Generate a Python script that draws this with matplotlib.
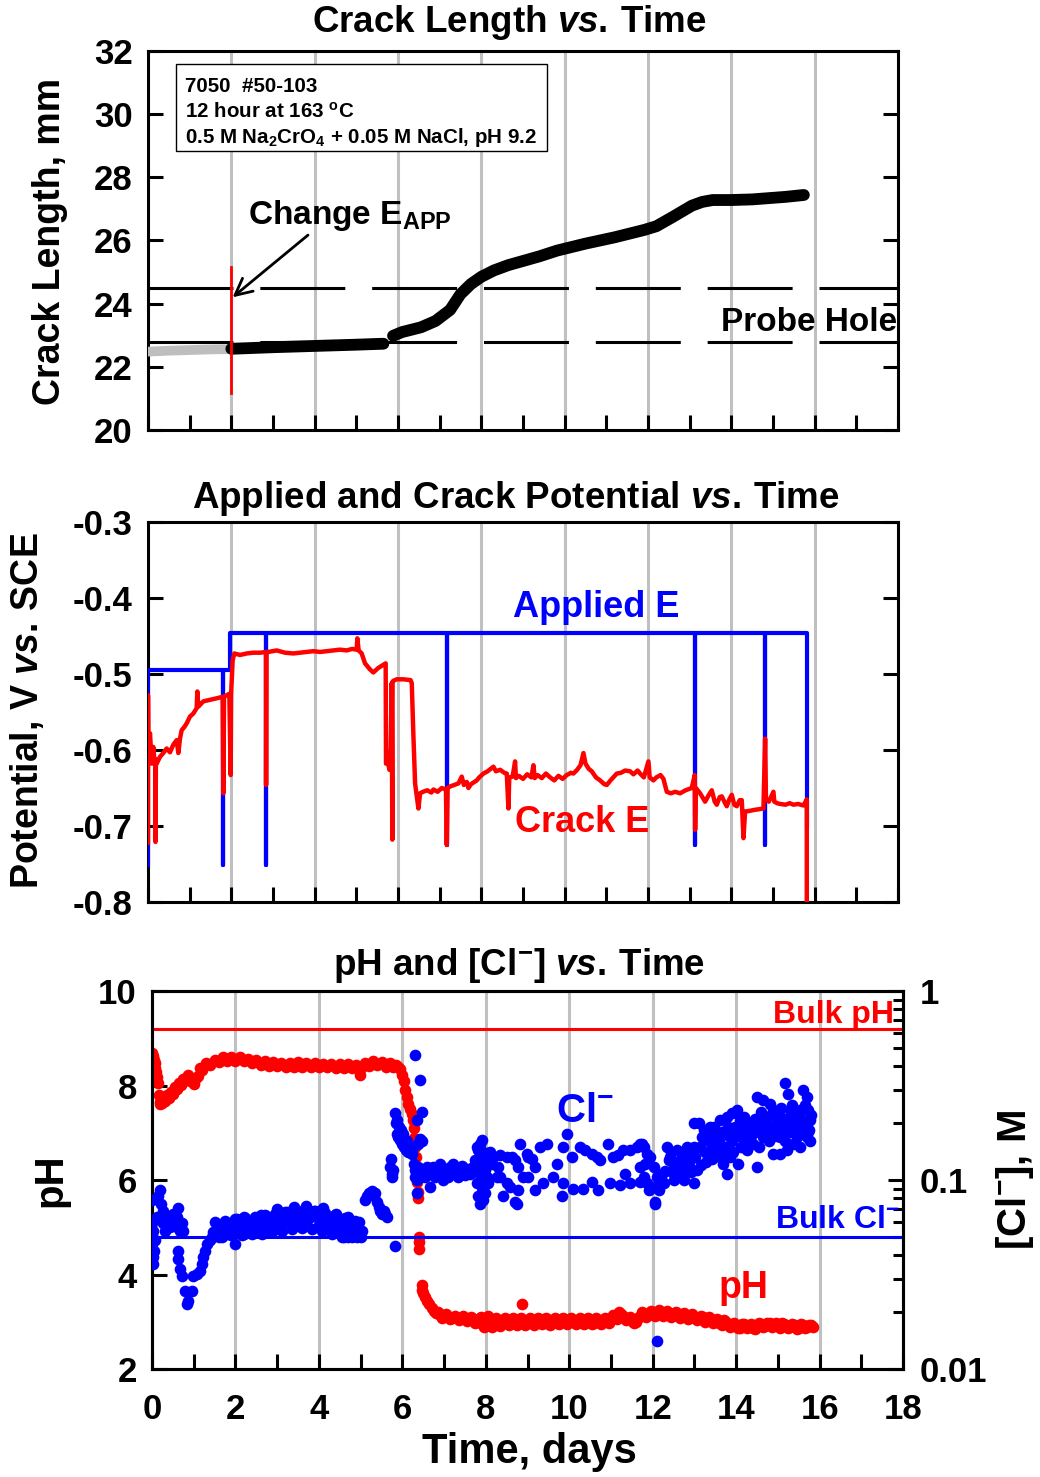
import numpy as np
import matplotlib
matplotlib.use("Agg")
import matplotlib.pyplot as plt
from matplotlib.patches import Rectangle
from matplotlib.ticker import MultipleLocator, FixedLocator, FixedFormatter, NullFormatter, FormatStrFormatter

# ---- crack length (mm) ----
cl_pre_day = [0.0, 0.5, 1.0, 1.5, 1.97]
cl_pre_len = [22.48, 22.51, 22.53, 22.55, 22.56]
cl_a_day = [2.0, 3.0, 4.0, 5.0, 5.65]
cl_a_len = [22.57, 22.62, 22.66, 22.70, 22.73]
cl_b_day = [5.88, 6.1, 6.55, 6.9, 7.25, 7.5, 7.75, 8.0, 8.3, 8.65, 9.0, 9.4, 9.82, 10.5,
            11.2, 11.9, 12.2, 12.6, 13.05, 13.3, 13.55, 14.0, 14.5, 14.9, 15.3, 15.74]
cl_b_len = [22.98, 23.1, 23.25, 23.45, 23.8, 24.3, 24.62, 24.85, 25.05, 25.22, 25.35, 25.5, 25.68, 25.9,
            26.1, 26.33, 26.45, 26.75, 27.1, 27.22, 27.28, 27.28, 27.3, 27.34, 27.38, 27.44]
probe_hole = [22.8, 24.5]
e_change_day = 2.0
e_change_span = [21.17, 25.16]

# ---- potentials (V vs SCE) ----
applied_day = [0.0, 0.0, 1.79, 1.79, 1.79, 1.97, 1.97, 2.83, 2.83, 2.83, 7.17, 7.17, 7.17,
               13.13, 13.13, 13.13, 14.81, 14.81, 14.81, 15.81, 15.81]
applied_v = [-0.751, -0.495, -0.495, -0.751, -0.495, -0.495, -0.446, -0.446, -0.751, -0.446, -0.446, -0.725, -0.446,
             -0.446, -0.725, -0.446, -0.446, -0.725, -0.446, -0.446, -0.70]

crack_day = [0.0, 0.0, 0.008, 0.048, 0.09, 0.128, 0.15, 0.18, 0.18, 0.19, 0.208, 0.288, 0.368, 0.448,
             0.528, 0.608, 0.688, 0.728, 0.768, 0.808, 0.868, 0.928, 1.008, 1.088, 1.168, 1.184, 1.208,
             1.328, 1.488, 1.648, 1.792, 1.808, 1.825, 1.952, 1.984, 1.995, 2.032, 2.072, 2.208, 2.368,
             2.528, 2.7, 2.832, 2.834, 2.84, 2.888, 3.088, 3.288, 3.488, 3.648, 3.808, 3.968, 4.128,
             4.288, 4.448, 4.608, 4.768, 4.9, 5.008, 5.024, 5.056, 5.128, 5.208, 5.328, 5.408, 5.528,
             5.648, 5.704, 5.712, 5.768, 5.792, 5.824, 5.848, 5.864, 5.87, 5.888, 5.968, 6.128, 6.3,
             6.33, 6.37, 6.41, 6.49, 6.53, 6.6, 6.7, 6.8, 6.85, 6.95, 7.05, 7.15, 7.17, 7.19, 7.25,
             7.35, 7.45, 7.53, 7.58, 7.65, 7.69, 7.75, 7.89, 7.95, 8.05, 8.15, 8.29, 8.35, 8.45, 8.55,
             8.61, 8.65, 8.67, 8.75, 8.81, 8.83, 8.9, 9.0, 9.1, 9.2, 9.25, 9.28, 9.35, 9.45, 9.55, 9.65,
             9.75, 9.85, 9.95, 10.05, 10.15, 10.21, 10.3, 10.38, 10.45, 10.5, 10.58, 10.65, 10.75,
             10.85, 10.95, 11.01, 11.1, 11.2, 11.25, 11.35, 11.45, 11.57, 11.65, 11.75, 11.81, 11.9,
             12.01, 12.04, 12.13, 12.2, 12.3, 12.37, 12.45, 12.55, 12.65, 12.77, 12.9, 13.05, 13.12,
             13.13, 13.15, 13.25, 13.37, 13.45, 13.53, 13.6, 13.65, 13.72, 13.77, 13.85, 13.89, 13.95,
             14.01, 14.07, 14.13, 14.2, 14.25, 14.29, 14.33, 14.45, 14.53, 14.65, 14.77, 14.81, 14.83,
             14.9, 15.01, 15.03, 15.1, 15.17, 15.3, 15.4, 15.49, 15.6, 15.73, 15.81, 15.81]
crack_v = [-0.722, -0.528, -0.600, -0.578, -0.618, -0.596, -0.612, -0.612, -0.721, -0.615, -0.618, -0.609,
           -0.604, -0.598, -0.603, -0.593, -0.587, -0.604, -0.585, -0.574, -0.570, -0.565, -0.556, -0.552,
           -0.545, -0.523, -0.543, -0.536, -0.534, -0.532, -0.530, -0.657, -0.530, -0.526, -0.633, -0.526,
           -0.482, -0.473, -0.475, -0.473, -0.472, -0.472, -0.471, -0.646, -0.471, -0.471, -0.469, -0.472,
           -0.473, -0.472, -0.471, -0.470, -0.471, -0.470, -0.469, -0.468, -0.469, -0.467, -0.468, -0.453,
           -0.469, -0.473, -0.486, -0.494, -0.498, -0.492, -0.488, -0.486, -0.618, -0.618, -0.626, -0.596,
           -0.512, -0.718, -0.510, -0.509, -0.507, -0.507, -0.508, -0.512, -0.582, -0.644, -0.677, -0.657,
           -0.655, -0.653, -0.656, -0.652, -0.655, -0.650, -0.652, -0.725, -0.650, -0.648, -0.646, -0.644,
           -0.635, -0.646, -0.642, -0.650, -0.645, -0.640, -0.636, -0.631, -0.628, -0.622, -0.628, -0.626,
           -0.630, -0.631, -0.677, -0.636, -0.635, -0.615, -0.637, -0.634, -0.638, -0.632, -0.636, -0.620,
           -0.637, -0.633, -0.637, -0.631, -0.636, -0.640, -0.634, -0.638, -0.633, -0.630, -0.631, -0.626,
           -0.620, -0.604, -0.618, -0.625, -0.628, -0.636, -0.640, -0.645, -0.646, -0.640, -0.634, -0.631,
           -0.630, -0.627, -0.628, -0.632, -0.627, -0.631, -0.636, -0.615, -0.636, -0.640, -0.636, -0.633,
           -0.638, -0.655, -0.657, -0.655, -0.657, -0.653, -0.650, -0.633, -0.705, -0.650, -0.657, -0.668,
           -0.660, -0.653, -0.668, -0.672, -0.662, -0.661, -0.670, -0.674, -0.665, -0.659, -0.672, -0.674,
           -0.666, -0.666, -0.716, -0.681, -0.680, -0.679, -0.678, -0.677, -0.585, -0.664, -0.668, -0.655,
           -0.668, -0.670, -0.671, -0.672, -0.670, -0.672, -0.671, -0.673, -0.665, -0.802]

# ---- crack-tip pH ----
ph_day = [0.00, 0.02, 0.04, 0.06, 0.08, 0.10, 0.12, 0.14, 0.16, 0.18, 0.20, 0.23, 0.26, 0.30, 0.35,
          0.40, 0.45, 0.50, 0.55, 0.60, 0.65, 0.70, 0.75, 0.80, 0.85, 0.90, 0.95, 1.00, 1.05, 1.10,
          1.15, 1.20, 1.30, 1.40, 1.50, 1.60, 1.70, 1.80, 1.90, 2.00, 2.10, 2.20, 2.30, 2.40, 2.50,
          2.60, 2.70, 2.80, 2.90, 3.00, 3.10, 3.20, 3.30, 3.40, 3.50, 3.60, 3.70, 3.80, 3.90, 4.00,
          4.10, 4.20, 4.30, 4.40, 4.50, 4.60, 4.70, 4.80, 4.90, 4.99, 5.00, 5.10, 5.20, 5.30, 5.40,
          5.50, 5.60, 5.70, 5.78, 5.85, 5.90, 5.95, 6.00, 6.03, 6.06, 6.10, 6.14, 6.18, 6.22, 6.25,
          6.27, 6.29, 6.31, 6.33, 6.35, 6.36, 6.37, 6.38, 6.39, 6.40, 6.41, 6.46, 6.48, 6.50, 6.55,
          6.60, 6.65, 6.70, 6.75, 6.80, 6.90, 7.00, 7.10, 7.20, 7.30, 7.40, 7.50, 7.60, 7.70, 7.80,
          7.88, 7.92, 7.96, 8.00, 8.04, 8.08, 8.12, 8.16, 8.22, 8.30, 8.40, 8.50, 8.60, 8.70, 8.80,
          8.86, 8.92, 9.00, 9.10, 9.20, 9.30, 9.40, 9.50, 9.60, 9.70, 9.80, 9.90, 10.00, 10.10, 10.20,
          10.30, 10.40, 10.50, 10.60, 10.70, 10.80, 10.90, 11.00, 11.10, 11.20, 11.30, 11.40, 11.50,
          11.60, 11.70, 11.80, 11.90, 12.00, 12.10, 12.20, 12.30, 12.40, 12.50, 12.60, 12.70, 12.80,
          12.90, 13.00, 13.10, 13.20, 13.30, 13.40, 13.50, 13.60, 13.70, 13.80, 13.90, 14.00, 14.10,
          14.20, 14.30, 14.40, 14.50, 14.60, 14.70, 14.80, 14.90, 15.00, 15.10, 15.20, 15.30, 15.40,
          15.50, 15.60, 15.70, 15.80, 15.85]
ph_val = [8.68, 8.62, 8.55, 8.47, 8.38, 8.28, 8.18, 8.05, 7.80, 7.66, 7.60, 7.63, 7.68, 7.68, 7.79,
          7.74, 7.86, 7.82, 7.96, 7.93, 8.05, 8.01, 8.14, 8.11, 8.22, 8.10, 8.14, 8.04, 8.16, 8.21,
          8.37, 8.33, 8.47, 8.43, 8.55, 8.49, 8.60, 8.52, 8.61, 8.53, 8.60, 8.51, 8.57, 8.47, 8.54,
          8.44, 8.51, 8.41, 8.49, 8.41, 8.48, 8.40, 8.48, 8.40, 8.49, 8.40, 8.47, 8.40, 8.47, 8.39,
          8.46, 8.39, 8.46, 8.38, 8.45, 8.38, 8.45, 8.37, 8.44, 8.22, 8.38, 8.47, 8.42, 8.51, 8.43,
          8.49, 8.40, 8.47, 8.39, 8.43, 8.40, 8.35, 8.22, 8.10, 7.90, 7.76, 7.62, 7.50, 7.40, 7.27,
          7.10, 6.90, 6.70, 6.49, 6.20, 5.95, 5.75, 5.62, 4.80, 4.68, 4.55, 3.78, 3.68, 3.60, 3.52,
          3.45, 3.38, 3.30, 3.22, 3.18, 3.14, 3.12, 3.10, 3.09, 3.08, 3.07, 3.06, 3.06, 3.05, 3.04,
          3.10, 2.96, 3.06, 2.92, 3.08, 2.95, 3.02, 2.90, 3.04, 2.97, 3.04, 2.99, 3.03, 2.98, 3.06,
          3.38, 3.02, 2.98, 3.04, 2.98, 3.03, 3.06, 3.00, 3.04, 2.98, 3.05, 3.01, 3.06, 2.99, 3.04,
          2.98, 3.05, 3.01, 2.98, 3.04, 3.00, 3.05, 3.03, 3.10, 3.20, 3.12, 3.05, 3.01,
          3.00, 3.12, 3.16, 3.18, 3.15, 3.20, 3.17, 3.19, 3.15, 3.18, 3.13, 3.15, 3.11,
          3.13, 3.09, 3.07, 3.10, 3.04, 3.06, 3.01, 2.97, 3.03, 2.96, 2.94, 2.91, 2.87,
          2.95, 2.91, 2.86, 2.92, 2.96, 2.92, 2.97, 2.94, 2.92, 2.97, 2.94, 2.89, 2.93,
          2.87, 2.94, 2.89, 2.93, 2.88]
# second pass of readings in the low-pH stretch
ph2_day = [6.85, 6.95, 7.05, 7.15, 7.25, 7.35, 7.45, 7.55, 7.65, 7.75, 7.85, 7.95, 8.05, 8.15, 8.25,
           8.35, 8.45, 8.55, 8.65, 8.75, 8.85, 8.95, 9.05, 9.15, 9.25, 9.35, 9.45, 9.55, 9.65, 9.75,
           9.85, 9.95, 10.05, 10.15, 10.25, 10.35, 10.45, 10.55, 10.65, 10.75, 10.85, 10.95, 11.05,
           11.15, 11.25, 11.35, 11.45, 11.55, 11.65, 11.75, 11.85, 11.95, 12.05, 12.15, 12.25, 12.35,
           12.45, 12.55, 12.65, 12.75, 12.85, 12.95, 13.05, 13.15, 13.25, 13.35, 13.45, 13.55, 13.65,
           13.75, 13.85, 13.95, 14.05, 14.15, 14.25, 14.35, 14.45, 14.55, 14.65, 14.75, 14.85, 14.95,
           15.05, 15.15, 15.25, 15.35, 15.45, 15.55, 15.65, 15.75]
ph2_val = [3.20, 3.08, 3.16, 3.05, 3.13, 3.03, 3.12, 3.01, 3.10, 2.98, 3.08, 2.90, 3.12, 2.94, 3.08,
           2.92, 3.07, 2.93, 3.08, 2.94, 3.07, 2.93, 3.08, 2.94, 3.09, 2.95, 3.08, 2.94, 3.09, 2.96,
           3.08, 2.95, 3.09, 2.96, 3.08, 2.95, 3.09, 2.96, 3.07, 2.95, 3.09, 2.97, 3.14,
           3.06, 3.16, 3.04, 3.10, 2.98, 3.08, 3.20, 3.10, 3.22, 3.12, 3.24, 3.12, 3.22,
           3.10, 3.20, 3.08, 3.18, 3.06, 3.16, 3.03, 3.13, 3.00, 3.10, 2.97, 3.06, 2.93,
           3.00, 2.90, 2.98, 2.86, 2.96, 2.86, 2.95, 2.84, 2.97, 2.88, 2.98, 2.88, 2.97,
           2.87, 2.95, 2.86, 2.95, 2.85, 2.96, 2.86, 2.94]

# ---- crack-tip chloride (M) ----
cl_early_day = [0.00, 0.00, 0.02, 0.00, 0.00, 0.02, 0.03, 0.05, 0.07, 0.11, 0.15, 0.19, 0.21, 0.27, 0.27,
                0.31, 0.35, 0.39, 0.43, 0.47, 0.51, 0.59, 0.63, 0.59, 0.67, 0.71, 0.75, 0.63, 0.63, 0.67,
                0.71, 0.79, 0.83, 0.87, 0.95, 0.99, 1.07, 1.15, 1.19, 1.23, 1.27, 1.31, 1.39, 1.47, 1.55,
                1.63, 1.71, 1.79, 1.87, 1.95, 1.99, 2.03, 2.11, 2.19, 2.27, 2.35, 2.43, 2.51, 2.59, 2.67,
                2.75, 2.83, 2.91, 2.99, 3.07, 3.15, 3.23, 3.31, 3.39, 3.47, 3.55, 3.63, 3.71, 3.79, 3.87,
                3.95, 4.03, 4.11, 4.19, 4.27, 4.35, 4.43, 4.51, 4.59, 4.67, 4.75, 4.83, 4.91,
                1.60, 1.90, 2.20, 2.50, 2.80, 3.10, 3.40, 3.70, 4.00, 4.30, 4.50, 4.60, 4.70, 4.80,
                4.90, 5.00, 2.20, 2.60, 3.00, 3.40, 3.70, 4.10, 4.40, 4.70, 4.95]
cl_early = [0.078, 0.059, 0.054, 0.046, 0.041, 0.039, 0.036, 0.042, 0.048, 0.064, 0.082, 0.0885, 0.075,
            0.069, 0.059, 0.054, 0.059, 0.064, 0.0566, 0.059, 0.066, 0.064, 0.071, 0.0566, 0.054, 0.059,
            0.054, 0.042, 0.038, 0.034, 0.031, 0.026, 0.022, 0.023, 0.026, 0.031, 0.032, 0.033, 0.036,
            0.039, 0.042, 0.046, 0.048, 0.053, 0.054, 0.0566, 0.054, 0.052, 0.055, 0.059, 0.046, 0.062,
            0.059, 0.061, 0.058, 0.0566, 0.059, 0.055, 0.062, 0.061, 0.058, 0.063, 0.064, 0.059, 0.066,
            0.064, 0.068, 0.065, 0.069, 0.066, 0.068, 0.064, 0.069, 0.066, 0.069, 0.066, 0.069, 0.066,
            0.064, 0.059, 0.063, 0.058, 0.055, 0.059, 0.056, 0.061, 0.054, 0.050,
            0.050, 0.051, 0.052, 0.053, 0.054, 0.056, 0.058, 0.059, 0.058, 0.056, 0.052, 0.050, 0.050,
            0.052, 0.051, 0.050, 0.064, 0.065, 0.070, 0.072, 0.073, 0.071, 0.066, 0.064, 0.060]
cl_band_day = [1.43, 1.51, 1.59, 1.67, 1.75, 1.83, 1.91, 1.99, 2.07, 2.15, 2.23, 2.31, 2.39, 2.47, 2.55,
               2.63, 2.71, 2.79, 2.87, 2.95, 3.03, 3.11, 3.19, 3.27, 3.35, 3.43, 3.51, 3.59, 3.67, 3.75,
               3.83, 3.91, 3.99, 4.07, 4.15, 4.23, 4.31, 4.39, 4.47, 4.55, 4.63, 4.71, 4.79, 4.87, 4.95]
cl_band = [0.050, 0.060, 0.054, 0.050, 0.061, 0.055, 0.051, 0.062, 0.056, 0.051, 0.063, 0.057, 0.052, 0.064,
           0.058, 0.052, 0.065, 0.059, 0.053, 0.066, 0.060, 0.054, 0.068, 0.061, 0.055, 0.069, 0.062, 0.056,
           0.070, 0.063, 0.055, 0.069, 0.062, 0.054, 0.067, 0.060, 0.052, 0.065, 0.058, 0.050, 0.063, 0.056,
           0.050, 0.061, 0.054]

cl_mid_day = [5.03, 5.11, 5.15, 5.19, 5.27, 5.31, 5.35, 5.39, 5.43, 5.47, 5.51, 5.55, 5.59, 5.63,
              5.70, 5.72, 5.74, 5.76, 5.78, 5.83, 5.82, 5.84, 5.86, 5.88, 5.90, 5.92, 5.94, 5.96, 5.98,
              6.00, 6.02, 6.04, 6.06, 6.08, 6.10, 6.12, 6.14, 6.16, 6.20, 6.22, 6.26, 6.30, 6.34, 6.38,
              6.42, 6.46, 6.42, 6.46, 6.28, 6.30, 6.34, 6.38, 6.42, 6.30, 6.34,
              6.50, 6.58, 6.66, 6.70, 6.74, 6.82, 6.90, 6.98, 7.06, 7.14, 7.22, 7.30, 7.38, 7.46, 7.54,
              7.62, 7.70, 7.74, 6.54, 6.62, 6.78, 6.86, 6.94, 7.02, 7.10, 7.18, 7.26, 7.34, 7.42, 7.50,
              7.58, 7.66,
              7.78, 7.82, 7.86, 7.90, 7.86, 7.94, 7.90, 7.86, 7.82, 7.94, 7.98, 8.02, 8.06, 8.18, 8.26,
              8.30, 7.90, 7.94, 7.98, 8.02, 7.82, 7.78, 7.90, 7.94, 8.10, 8.14]
cl_mid = [0.054, 0.078, 0.082, 0.085, 0.088, 0.082, 0.085, 0.077, 0.072, 0.069, 0.066, 0.069, 0.066, 0.064,
          0.117, 0.130, 0.108, 0.104, 0.113, 0.045, 0.226, 0.200, 0.207, 0.176, 0.169, 0.192, 0.163, 0.184,
          0.156, 0.169, 0.176, 0.150, 0.163, 0.144, 0.160, 0.156, 0.140, 0.150, 0.144, 0.138, 0.150, 0.46,
          0.207, 0.156, 0.34, 0.23, 0.165, 0.160, 0.122, 0.113, 0.100, 0.117, 0.104, 0.104, 0.085,
          0.113, 0.117, 0.092, 0.108, 0.117, 0.111, 0.122, 0.100, 0.113, 0.117, 0.122, 0.111, 0.113, 0.108,
          0.113, 0.108, 0.117, 0.128, 0.104, 0.110, 0.104, 0.106, 0.115, 0.108, 0.104, 0.108, 0.115, 0.104,
          0.119, 0.106, 0.115, 0.110,
          0.150, 0.144, 0.156, 0.133, 0.122, 0.104, 0.092, 0.075, 0.082, 0.100, 0.085, 0.104, 0.096, 0.133,
          0.104, 0.117, 0.163, 0.140, 0.113, 0.128, 0.110, 0.096, 0.086, 0.078, 0.140, 0.122]

cl_late_day = [8.34, 8.50, 8.62, 8.70, 8.78, 8.82, 8.98, 9.02, 9.10, 9.18, 9.30, 9.46, 9.70, 9.86, 9.94,
               10.06, 10.26, 10.38, 10.54, 10.66, 10.74, 10.94, 11.06, 11.18, 11.30, 11.46, 11.62, 11.74,
               11.86,
               8.34, 8.42, 8.50, 8.58, 8.70, 8.74, 8.78, 8.90, 9.02, 9.18, 9.38, 9.62, 9.82, 9.86, 10.10,
               10.34, 10.54, 10.70, 10.98, 11.22, 11.34, 11.46, 11.70, 11.90, 12.06,
               11.70, 11.78, 11.70, 11.82, 11.78, 11.86, 11.94, 12.02, 12.06, 12.10, 12.14, 12.22, 12.26,
               12.06, 12.34, 12.42, 12.50, 12.58, 12.66, 12.74, 12.82, 12.90, 12.98, 13.02, 13.06,
               12.98, 13.10, 13.18, 13.22, 13.30, 13.38, 13.46, 13.54, 13.61, 13.69, 13.77, 13.85, 13.61,
               13.77, 13.89, 14.01, 14.09, 14.05, 14.17, 14.25, 14.33, 14.41, 14.49, 14.57, 14.65,
               14.49, 14.65, 14.81, 14.89, 14.97, 15.05, 15.13, 15.17, 15.25, 15.29, 15.37, 15.45, 15.53,
               15.61, 15.69, 15.73, 15.77, 15.69, 15.53, 15.37, 15.21, 15.05, 14.89,
               12.38, 12.46, 12.54, 12.62, 12.70, 12.78, 12.86, 12.94, 13.14, 13.26, 13.34, 13.42, 13.50,
               13.58, 13.66, 13.74, 13.82, 13.90, 13.98, 14.06, 14.14, 14.22, 14.30, 14.38, 14.46, 14.54,
               14.62, 14.70, 14.78, 14.86, 14.94, 15.02, 15.10, 15.18, 15.26, 15.34, 15.42, 15.50, 15.58,
               15.66, 15.74, 15.78, 12.10,
               12.30, 12.44, 12.52, 12.68, 12.76, 12.92, 13.00, 13.16, 13.28, 13.40, 13.48, 13.56, 13.64,
               13.80, 13.92, 14.00, 14.12, 14.20, 14.36, 14.44, 14.60, 14.72, 14.84, 15.00, 15.08, 15.20,
               15.32, 15.40, 15.56, 15.64, 15.72, 15.80]
cl_late = [0.135, 0.133, 0.133, 0.128, 0.117, 0.156, 0.138, 0.133, 0.130, 0.117, 0.150, 0.156, 0.122,
           0.150, 0.176, 0.133, 0.150, 0.144, 0.138, 0.133, 0.128, 0.156, 0.133, 0.135, 0.144, 0.144,
           0.150, 0.156, 0.138,
           0.104, 0.082, 0.096, 0.092, 0.077, 0.075, 0.0885, 0.104, 0.104, 0.0885, 0.096, 0.104, 0.082,
           0.096, 0.090, 0.090, 0.098, 0.0885, 0.096, 0.094, 0.108, 0.096, 0.098, 0.0885, 0.075,
           0.156, 0.150, 0.117, 0.122, 0.104, 0.096, 0.133, 0.117, 0.092, 0.104, 0.0885, 0.108, 0.096,
           0.077, 0.150, 0.133, 0.117, 0.144, 0.104, 0.122, 0.150, 0.128, 0.096, 0.133, 0.113,
           0.200, 0.200, 0.169, 0.184, 0.176, 0.192, 0.156, 0.144, 0.133, 0.122, 0.108, 0.133, 0.207,
           0.216, 0.226, 0.235, 0.207, 0.122, 0.169, 0.144, 0.184, 0.156, 0.117, 0.192, 0.169,
           0.276, 0.265, 0.253, 0.235, 0.200, 0.169, 0.207, 0.325, 0.287, 0.235, 0.200, 0.169, 0.235,
           0.300, 0.276, 0.235, 0.207, 0.169, 0.150, 0.156, 0.144, 0.138, 0.138,
           0.128, 0.110, 0.125, 0.118, 0.135, 0.112, 0.118, 0.140, 0.150, 0.140, 0.160, 0.130, 0.170,
           0.160, 0.180, 0.150, 0.170, 0.160, 0.190, 0.170, 0.200, 0.180, 0.160, 0.200, 0.180, 0.150,
           0.210, 0.180, 0.160, 0.190, 0.170, 0.220, 0.180, 0.160, 0.190, 0.250, 0.210, 0.190, 0.180,
           0.200, 0.185, 0.160, 0.014,
           0.112, 0.140, 0.100, 0.128, 0.100, 0.110, 0.150, 0.120, 0.125, 0.145, 0.190, 0.175, 0.140,
           0.190, 0.140, 0.180, 0.150, 0.215, 0.170, 0.210, 0.230, 0.200, 0.220, 0.190, 0.240, 0.210,
           0.180, 0.230, 0.210, 0.250, 0.180, 0.220]

bulk_ph = 9.2
bulk_cl = 0.05

RED = "#ff0000"
BLUE = "#0000ff"
GRID = "#c0c0c0"
LW = 2.2
FS = 25      # tick labels
FT = 26.5    # titles
FL = 27      # axis labels
MS = 8.4     # marker size for pH / Cl points

plt.rcParams.update({
    "font.family": ["Liberation Sans", "DejaVu Sans"],
    "font.weight": "bold",
    "font.size": FS,
    "axes.unicode_minus": False,
    "mathtext.fontset": "custom",
    "mathtext.rm": "Liberation Sans:bold",
    "mathtext.it": "Liberation Sans:italic:bold",
    "mathtext.bf": "Liberation Sans:bold",
    "axes.linewidth": LW,
})

fig = plt.figure(figsize=(10.4, 14.77), dpi=100)
ax1 = fig.add_axes([0.1423, 0.7089, 0.7212, 0.2566])
ax2 = fig.add_axes([0.1423, 0.3893, 0.7212, 0.2573])
ax3 = fig.add_axes([0.1462, 0.0731, 0.7221, 0.2559])


def style_time_axis(ax, labels=False):
    ax.set_xlim(0, 18)
    ax.xaxis.set_major_locator(MultipleLocator(2))
    ax.xaxis.set_minor_locator(MultipleLocator(1))
    ax.grid(True, axis="x", which="major", color=GRID, lw=LW)
    ax.set_axisbelow(True)
    ax.tick_params(axis="x", which="both", direction="in", length=11, width=LW,
                   top=False, labelbottom=labels, pad=17, labelsize=FS)
    ax.tick_params(axis="y", which="both", direction="in", length=11, width=LW, pad=11, labelsize=FS)


# --- crack length panel ---
style_time_axis(ax1)
ax1.set_ylim(20, 32)
ax1.yaxis.set_major_locator(MultipleLocator(2))
ax1.tick_params(axis="y", right=True)

for y in probe_hole:
    ax1.axhline(y, color="black", lw=LW, dashes=(27.8, 8.8))
ax1.plot(cl_pre_day, cl_pre_len, color="#bebebe", lw=7, solid_capstyle="round", zorder=3)
ax1.plot(cl_a_day, cl_a_len, color="black", lw=8.5, solid_capstyle="round", zorder=3)
ax1.plot(cl_b_day, cl_b_len, color="black", lw=8.5, solid_capstyle="round", zorder=3)
ax1.plot([e_change_day, e_change_day], e_change_span, color=RED, lw=2, zorder=4)

ax1.text(2.4, 26.8, r"Change E$_{\mathregular{APP}}$", ha="left", va="center", fontsize=24)
ax1.annotate("", xy=(2.03, 24.2), xytext=(3.84, 26.17),
             arrowprops=dict(arrowstyle="->", lw=2, color="black", mutation_scale=30,
                             shrinkA=0, shrinkB=0))
ax1.text(17.98, 23.39, "Probe Hole", ha="right", va="center", fontsize=24)

ax1.add_patch(Rectangle((0.0373, 0.736), 0.4947, 0.2297, transform=ax1.transAxes,
                        facecolor="white", edgecolor="black", lw=1, zorder=5))
box_lines = ["7050  #50-103",
             r"12 hour at 163 $^{\mathregular{o}}$C",
             r"0.5 M Na$_{\mathregular{2}}$CrO$_{\mathregular{4}}$ + 0.05 M NaCl, pH 9.2"]
for line, yb in zip(box_lines, [0.892, 0.823, 0.757]):
    ax1.text(0.0493, yb, line, transform=ax1.transAxes, ha="left", va="baseline",
             fontsize=14.8, zorder=6)

# --- potential panel ---
style_time_axis(ax2)
ax2.set_ylim(-0.8, -0.3)
ax2.yaxis.set_major_locator(MultipleLocator(0.1))
ax2.yaxis.set_major_formatter(FormatStrFormatter("%.1f"))
ax2.tick_params(axis="y", right=True)
ax2.plot(applied_day, applied_v, color=BLUE, lw=3, zorder=3)
ax2.plot(crack_day, crack_v, color=RED, lw=3.2, zorder=4)
ax2.text(10.75, -0.412, "Applied E", color=BLUE, ha="center", va="center", fontsize=26)
ax2.text(10.42, -0.696, "Crack E", color=RED, ha="center", va="center", fontsize=26)

# --- pH / chloride panel ---
style_time_axis(ax3, labels=True)
ax3.set_ylim(2, 10)
ax3.yaxis.set_major_locator(MultipleLocator(2))
ax3.tick_params(axis="y", right=False)
ax3.axhline(bulk_ph, color=RED, lw=LW, zorder=2)
ax3.plot(ph_day, ph_val, "o", color=RED, ms=MS, mew=0, zorder=3)
ax3.plot(ph2_day, ph2_val, "o", color=RED, ms=MS, mew=0, zorder=3)
ax3.text(17.78, 9.49, "Bulk pH", color=RED, ha="right", va="center", fontsize=23)
ax3.text(14.18, 3.71, "pH", color=RED, ha="center", va="center", fontsize=27)

ax3r = ax3.twinx()
ax3r.set_yscale("log")
ax3r.set_ylim(0.01, 1)
ax3r.yaxis.set_major_locator(FixedLocator([0.01, 0.1, 1]))
ax3r.yaxis.set_major_formatter(FixedFormatter(["0.01", "0.1", "1"]))
ax3r.yaxis.set_minor_locator(FixedLocator([m * d for d in (0.01, 0.1) for m in range(2, 10)]))
ax3r.yaxis.set_minor_formatter(NullFormatter())
ax3r.tick_params(axis="y", which="major", direction="in", length=11, width=LW, pad=12, labelsize=FS)
ax3r.tick_params(axis="y", which="minor", direction="in", length=7, width=LW)
ax3r.axhline(bulk_cl, color=BLUE, lw=LW, zorder=2)
for d, c in [(cl_early_day, cl_early), (cl_band_day, cl_band), (cl_mid_day, cl_mid), (cl_late_day, cl_late)]:
    ax3r.plot(d, c, "o", color=BLUE, ms=MS, mew=0, zorder=3)
ax3r.text(17.92, 0.0614, r"Bulk Cl$^{\mathregular{-}}$", color=BLUE, ha="right", va="center", fontsize=23)
ax3r.text(10.38, 0.232, r"Cl$^{\mathregular{-}}$", color=BLUE, ha="center", va="center", fontsize=29)

# --- titles and axis labels ---
fig.text(0.4899, 0.9851, r"Crack Length $\mathit{vs.}\,$Time", ha="center", va="center", fontsize=FT)
fig.text(0.4957, 0.6628, r"Applied and Crack Potential $\mathit{vs.}\,$Time", ha="center", va="center", fontsize=FT)
fig.text(0.4986, 0.346, r"pH and [Cl$^{\mathregular{-}}$] $\mathit{vs.}\,$Time", ha="center", va="center", fontsize=FT)

fig.text(0.048, 0.8365, "Crack Length, mm", rotation=90, ha="center", va="center", fontsize=FL)
fig.text(0.026, 0.519, r"Potential, V $\mathit{vs.}\,$SCE", rotation=90, ha="center", va="center", fontsize=FL)
fig.text(0.048, 0.201, "pH", rotation=90, ha="center", va="center", fontsize=29)
fig.text(0.976, 0.201, r"[Cl$^{\mathregular{-}}$], M", rotation=90, ha="center", va="center", fontsize=29)
fig.text(0.5087, 0.0169, "Time, days", ha="center", va="center", fontsize=30)

fig.savefig("out.png", dpi=100)
